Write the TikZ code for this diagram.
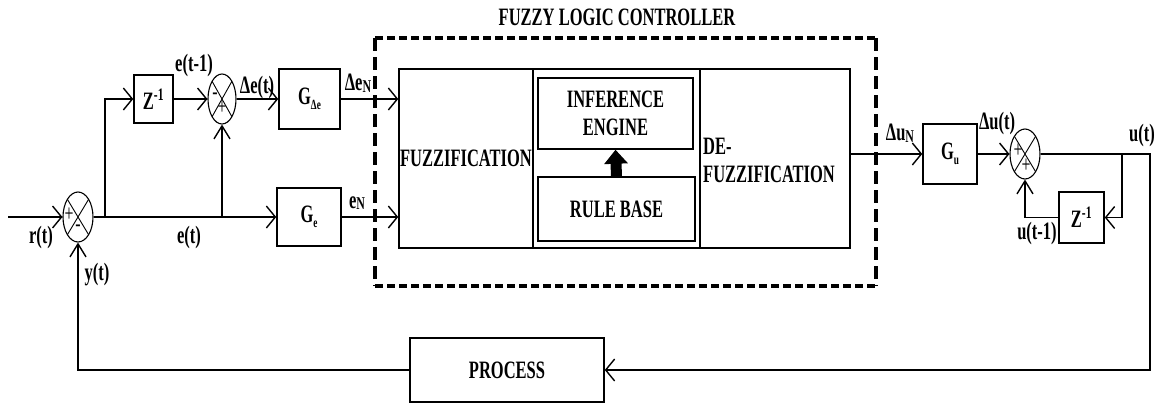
\documentclass[tikz,border=0pt]{standalone}
\usepackage{fontspec}
\setmainfont{Liberation Serif}[FakeStretch=0.66]
\usetikzlibrary{arrows.meta,shapes.geometric,calc}

\tikzset{
  wire/.style={line width=1.4pt, line join=miter},
  harr/.style={wire, -{Straight Barb[length=9pt,width=22pt]}},
  varr/.style={wire, -{Straight Barb[length=13pt,width=16pt]}},
  txt/.style={inner sep=0pt, font=\fontsize{25}{28}\selectfont\bfseries},
  sgn/.style={inner sep=0pt, font=\fontsize{24}{24}\selectfont},
  blk/.style={draw, line width=1.5pt, inner sep=0pt, align=center,
    font=\fontsize{25}{28}\selectfont\bfseries},
  sumj/.style={ellipse, draw, line width=1.1pt, inner sep=0pt,
    minimum width=30pt, minimum height=50pt,
    path picture={\draw[line width=0.9pt]
      (path picture bounding box.north west) -- (path picture bounding box.south east)
      (path picture bounding box.north east) -- (path picture bounding box.south west);}},
  fence/.style={line width=4pt},
}
\newcommand{\sbs}[1]{\raisebox{-5pt}{\fontsize{14}{14}\selectfont\bfseries #1}}
\newcommand{\lsb}[1]{\raisebox{-1.5pt}{\fontsize{18}{18}\selectfont #1}}

\begin{document}
\begin{tikzpicture}[x=1pt, y=-1pt]
\useasboundingbox (0,0) rectangle (1163,405);

% --- error path ---
\node[sumj] (sum1) at (78,217) {};
\node[blk, minimum width=39pt, minimum height=48pt] (z1) at (153.5,99) {Z\textsuperscript{-1}};
\node[sumj, minimum width=28pt] (sum2) at (222,99) {};
\node[blk, minimum width=61pt, minimum height=60pt] (gde) at (309.5,99) {G\sbs{Δe}};
\node[blk, minimum width=64pt, minimum height=58pt] (ge) at (309,217) {G\sbs{e}};

% --- fuzzy logic controller ---
\node[blk, minimum width=134pt, minimum height=179pt] (fz) at (466,158.5) {FUZZIFICATION};
\node[blk, minimum width=167pt, minimum height=179pt] (mid) at (616.5,158.5) {};
\node[blk, minimum width=150pt, minimum height=179pt] (df) at (775,158.5) {};
\node[txt, anchor=west, align=left] (dftext) at (703,160) {DE-\\FUZZIFICATION};
\node[blk, minimum width=155pt, minimum height=71pt] (ie) at (615.5,113.5) {INFERENCE\\ENGINE};
\node[blk, minimum width=157pt, minimum height=64pt] (rb) at (616.5,209) {RULE BASE};
\draw[line width=11pt, -{Triangle[length=14pt,width=23pt]}] (rb.north) -- (ie.south);

\draw[fence, dash pattern=on 8pt off 4pt] (375,38) -- (876,38);
\draw[fence, dash pattern=on 8pt off 4pt] (375,286) -- (876,286);
\draw[fence, dash pattern=on 13pt off 6pt] (375,38) -- (375,286);
\draw[fence, dash pattern=on 13pt off 6pt] (876,38) -- (876,286);
\node[txt] (title) at (617,17) {FUZZY LOGIC CONTROLLER};

% --- output path ---
\node[blk, minimum width=54pt, minimum height=60pt] (gu) at (950,154) {G\sbs{u}};
\node[sumj] (sum3) at (1025,154) {};
\node[blk, minimum width=45pt, minimum height=51pt] (z2) at (1081.5,217.5) {Z\textsuperscript{-1}};
\node[blk, minimum width=194pt, minimum height=64pt] (proc) at (507,370) {PROCESS};

% --- junction points ---
\coordinate (rin) at (8,217);
\coordinate (b1) at (105,217);
\coordinate (b2) at (222,217);
\coordinate (ub) at (1122,154);
\coordinate (uc) at (1150,154);

% --- connectors ---
\draw[harr] (rin) -- (sum1.west);
\draw[harr] (sum1.east) -- (ge.west);
\draw[harr] (b1) |- (z1.west);
\draw[varr] (b2) -- (sum2.south);
\draw[harr] (z1.east) -- (sum2.west);
\draw[harr] (sum2.east) -- (gde.west);
\draw[harr] (gde.east) -- (gde.east -| fz.west);
\draw[harr] (ge.east) -- (ge.east -| fz.west);
\draw[harr] (gu.west -| df.east) -- (gu.west);
\draw[harr] (gu.east) -- (sum3.west);
\draw[harr] (sum3.east) -- (uc) |- (proc.east);
\draw[harr] (ub) |- (z2.east);
\draw[varr] (z2.west) -| (sum3.south);
\draw[varr] (proc.west) -| (sum1.south);

% --- signal labels ---
\node[txt] (lr) at (41,237) {r(t)};
\node[txt] (ly) at (97,275) {y(t)};
\node[txt] (le) at (189,237) {e(t)};
\node[txt] (le1) at (194,65) {e(t-1)};
\node[txt] (lde) at (257,87) {Δe(t)};
\node[txt] (lden) at (358,83) {Δe\lsb{N}};
\node[txt] (len) at (357,203) {e\lsb{N}};
\node[txt] (ldun) at (900,133) {Δu\lsb{N}};
\node[txt] (ldu) at (997,123) {Δu(t)};
\node[txt] (lu) at (1142,135) {u(t)};
\node[txt] (lu1) at (1037,233) {u(t-1)};

% --- summing signs ---
\node[sgn] (s1a) at (69,215) {+};
\node[sgn] (s1b) at (78,228) {-};
\node[sgn] (s2a) at (215,96) {-};
\node[sgn] (s2b) at (222,108) {+};
\node[sgn] (s3a) at (1018,151) {+};
\node[sgn] (s3b) at (1026,166) {+};
\end{tikzpicture}
\end{document}
